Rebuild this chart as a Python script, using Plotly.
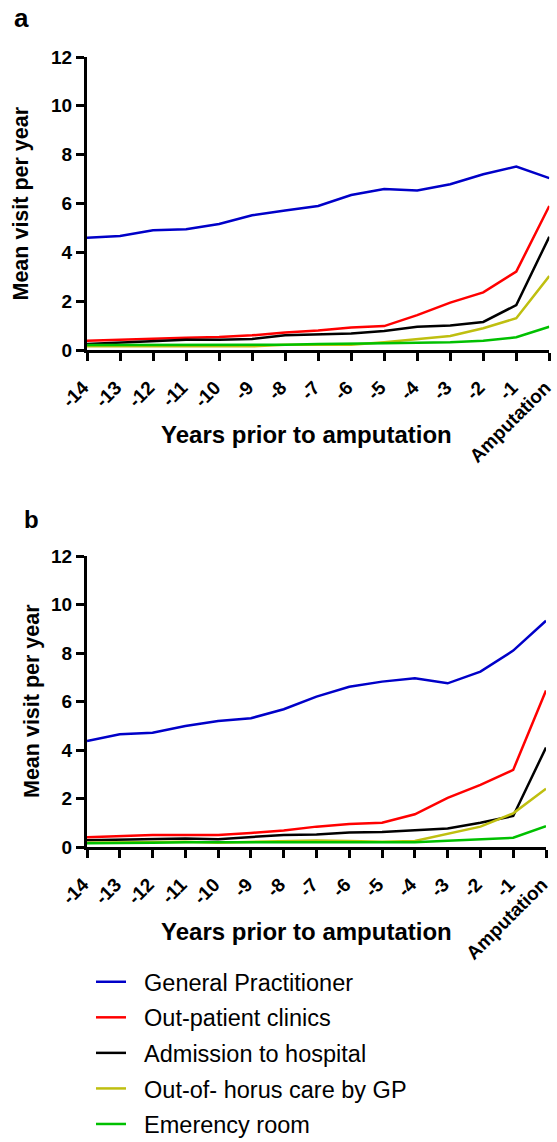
import plotly.graph_objects as go

W, H = 557, 1142

years = [-14, -13, -12, -11, -10, -9, -8, -7, -6, -5, -4, -3, -2, -1, 0]
tick_labels = ["-14", "-13", "-12", "-11", "-10", "-9", "-8", "-7", "-6", "-5", "-4", "-3", "-2", "-1", "Amputation"]

series_names = ["General Practitioner", "Out-patient clinics", "Admission to hospital",
                "Out-of- horus care by GP", "Emerency room"]
series_colors = ["#0000C8", "#FF0000", "#000000", "#BFBF10", "#00C000"]

# Panel a
gp_a = [4.60, 4.67, 4.90, 4.95, 5.16, 5.52, 5.71, 5.90, 6.35, 6.59, 6.53, 6.79, 7.20, 7.51, 7.04]
op_a = [0.38, 0.43, 0.48, 0.50, 0.53, 0.60, 0.72, 0.80, 0.92, 0.98, 1.43, 1.94, 2.36, 3.21, 5.90]
adm_a = [0.25, 0.30, 0.38, 0.42, 0.42, 0.45, 0.60, 0.65, 0.68, 0.78, 0.95, 1.00, 1.15, 1.84, 4.64]
ooh_a = [0.15, 0.15, 0.15, 0.15, 0.12, 0.15, 0.22, 0.22, 0.22, 0.32, 0.45, 0.57, 0.89, 1.30, 3.03]
er_a = [0.20, 0.20, 0.20, 0.20, 0.20, 0.20, 0.22, 0.25, 0.25, 0.28, 0.30, 0.32, 0.38, 0.52, 0.95]

# Panel b
gp_b = [4.37, 4.65, 4.71, 4.99, 5.20, 5.31, 5.68, 6.20, 6.61, 6.82, 6.96, 6.75, 7.23, 8.10, 9.33]
op_b = [0.40, 0.45, 0.50, 0.50, 0.50, 0.58, 0.68, 0.84, 0.95, 1.00, 1.35, 2.03, 2.56, 3.18, 6.45]
adm_b = [0.28, 0.30, 0.32, 0.35, 0.32, 0.42, 0.50, 0.52, 0.60, 0.62, 0.70, 0.76, 1.00, 1.28, 4.10]
ooh_b = [0.18, 0.20, 0.20, 0.22, 0.18, 0.20, 0.22, 0.27, 0.25, 0.22, 0.25, 0.54, 0.84, 1.39, 2.40]
er_b = [0.15, 0.18, 0.18, 0.20, 0.20, 0.20, 0.20, 0.20, 0.20, 0.20, 0.20, 0.26, 0.32, 0.38, 0.86]

y_ticks = [0, 2, 4, 6, 8, 10, 12]

FONT = "Liberation Sans, Arial, sans-serif"
NBSP = "\u00a0"


def px(p):
    return p / W


def py(p):
    return 1 - p / H


fig = go.Figure()

panel_a = [gp_a, op_a, adm_a, ooh_a, er_a]
panel_b = [gp_b, op_b, adm_b, ooh_b, er_b]

for i, (name, color, vals) in enumerate(zip(series_names, series_colors, panel_a)):
    fig.add_trace(go.Scatter(x=years, y=vals, mode="lines", name=NBSP * 2 + name,
                             line=dict(color=color, width=2.5),
                             legendgroup=f"g{i}", showlegend=True,
                             xaxis="x", yaxis="y"))
for i, (name, color, vals) in enumerate(zip(series_names, series_colors, panel_b)):
    fig.add_trace(go.Scatter(x=years, y=vals, mode="lines", name=name,
                             line=dict(color=color, width=2.5),
                             legendgroup=f"g{i}", showlegend=False,
                             xaxis="x2", yaxis="y2"))

xaxis_common = dict(
    range=[-14, 0], tickmode="array", tickvals=years, ticktext=tick_labels,
    tickangle=-45, ticks="outside", ticklen=8, tickwidth=2.5, tickcolor="black",
    showline=True, linecolor="black", linewidth=3, showgrid=False, zeroline=False,
    tickfont=dict(family=FONT, size=19, color="black", weight="bold"),
    ticklabeloverflow="allow", ticklabelstandoff=8, ticklabelshift=-4,
    fixedrange=True, automargin=False,
)
yaxis_common = dict(
    range=[0, 12], tickmode="array", tickvals=y_ticks,
    ticks="outside", ticklen=8, tickwidth=2.5, tickcolor="black",
    showline=True, linecolor="black", linewidth=3, showgrid=False, zeroline=False,
    tickfont=dict(family=FONT, size=19, color="black", weight="bold"),
    ticklabeloverflow="allow",
    fixedrange=True, automargin=False,
)

fig.update_layout(
    width=W, height=H,
    margin=dict(l=0, r=0, t=0, b=0, autoexpand=False),
    paper_bgcolor="white", plot_bgcolor="white",
    xaxis=dict(domain=[px(87), px(549.3)], anchor="y", **xaxis_common),
    yaxis=dict(domain=[py(350), py(57)], anchor="x", **yaxis_common),
    xaxis2=dict(domain=[px(87), px(546)], anchor="y2", **xaxis_common),
    yaxis2=dict(domain=[py(847), py(556)], anchor="x2", **yaxis_common),
    showlegend=True,
    legend=dict(
        x=px(91), y=py(960), xanchor="left", yanchor="top",
        font=dict(family=FONT, size=23.5, color="black"),
        itemwidth=30, tracegroupgap=2, bgcolor="rgba(0,0,0,0)",
        borderwidth=0,
    ),
)

ann = []
ann.append(dict(text="<b>a</b>", x=px(12), y=py(17.5), xref="paper", yref="paper",
                xanchor="left", yanchor="middle", showarrow=False,
                font=dict(family=FONT, size=26, color="black")))
ann.append(dict(text="<b>b</b>", x=px(22), y=py(519), xref="paper", yref="paper",
                xanchor="left", yanchor="middle", showarrow=False,
                font=dict(family=FONT, size=24, color="black")))
for yc in (434, 931):
    ann.append(dict(text="<b>Years prior to amputation</b>", x=px(306), y=py(yc),
                    xref="paper", yref="paper", xanchor="center", yanchor="middle",
                    showarrow=False, font=dict(family=FONT, size=24, color="black")))
for xc, yc in ((21, 203.5), (32, 701)):
    ann.append(dict(text="<b>Mean visit per year</b>", x=px(xc), y=py(yc),
                    xref="paper", yref="paper", xanchor="center", yanchor="middle",
                    textangle=-90, showarrow=False,
                    font=dict(family=FONT, size=21.5, color="black")))
fig.update_layout(annotations=ann)

fig.write_html(
    "out.html",
    config={"displayModeBar": False},
    post_script="document.body.style.margin='0';document.body.style.overflow='hidden';",
)
